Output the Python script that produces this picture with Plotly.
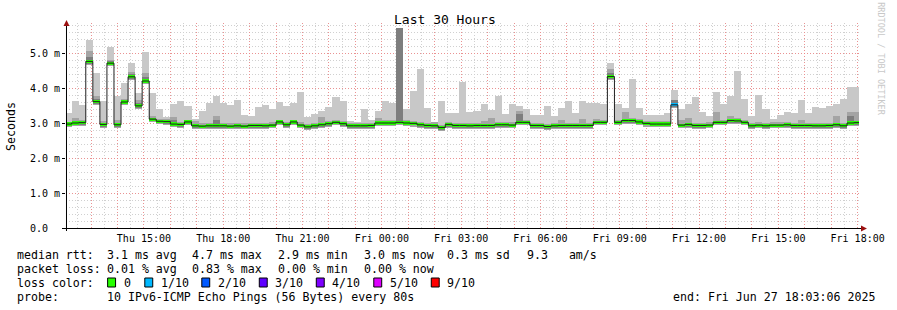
import plotly.graph_objects as go
import pandas as pd

# ---------------- data ----------------
t_start = "2025-06-26 12:03:06"
t_end = "2025-06-27 18:03:06"
bar_start = pd.date_range("2025-06-26 12:00:00", periods=113, freq="16min")

median = [2.97,3.00,3.01,4.76,3.61,2.96,4.71,2.95,3.60,4.32,
          3.49,4.20,3.11,3.05,3.04,2.97,2.96,3.03,2.92,2.91,
          2.92,2.92,2.92,2.91,2.92,2.91,2.93,2.93,2.92,2.94,
          3.03,2.95,3.03,2.94,2.89,2.92,2.95,2.98,3.02,2.98,
          2.92,2.92,2.92,2.93,3.00,3.00,3.00,3.02,3.00,2.99,
          2.95,2.93,2.92,2.87,2.96,2.93,2.93,2.92,2.93,2.93,
          2.93,2.95,2.95,2.94,3.02,3.02,2.93,2.93,2.90,2.92,
          2.93,2.93,2.93,2.93,2.93,3.02,3.02,4.33,3.02,3.07,
          3.07,3.03,2.99,2.97,2.97,2.97,3.52,2.94,2.96,2.93,
          2.93,2.94,3.02,3.02,3.07,3.06,3.02,2.92,2.94,2.92,
          2.94,2.94,2.95,2.93,2.93,2.93,2.92,2.92,2.93,2.95,
          2.92,3.00,3.01]

smoke_max = [3.29,3.64,3.52,5.38,4.43,3.64,5.17,3.78,4.14,4.72,
             3.85,5.04,3.85,3.41,3.18,3.55,3.64,3.49,3.12,3.35,
             3.58,3.78,3.58,3.52,3.66,3.24,3.20,3.47,3.52,3.41,
             3.61,3.49,3.58,3.89,3.18,3.27,3.35,3.47,3.75,3.64,
             3.07,3.04,3.41,3.10,3.35,3.64,3.58,5.71,3.40,3.92,
             4.55,3.44,3.04,3.64,3.28,3.28,4.18,3.32,3.35,3.55,
             3.38,3.78,3.27,3.55,3.49,3.41,3.24,3.24,3.49,3.21,
             3.44,3.64,3.29,3.64,3.58,3.58,3.55,4.72,3.55,3.44,
             4.27,3.44,3.24,3.24,3.24,3.29,3.95,3.41,3.55,3.75,
             3.32,3.21,3.89,3.55,3.78,4.49,3.69,3.21,3.81,3.41,
             3.12,3.24,3.32,3.29,3.66,3.29,3.47,3.44,3.49,3.55,
             3.69,4.04,4.02]

smoke_mid = [3.03,3.14,3.09,5.07,3.76,3.07,4.81,3.09,3.69,4.47,
             3.67,4.43,3.19,3.12,3.11,3.17,3.04,3.09,3.07,2.99,
             3.00,3.21,3.00,2.99,3.00,2.99,3.01,3.01,3.00,3.02,
             3.09,3.03,3.10,3.02,2.97,3.00,3.18,3.06,3.10,3.06,
             3.00,3.00,3.00,3.01,3.14,3.08,3.08,5.71,3.08,3.07,
             3.03,3.01,3.04,2.95,3.04,3.01,3.01,3.00,3.01,3.07,
             3.13,3.03,3.03,3.02,3.35,3.10,3.01,3.01,2.98,3.00,
             3.10,3.01,3.01,3.11,3.01,3.11,3.10,4.53,3.10,3.32,
             3.15,3.11,3.07,3.05,3.05,3.05,3.67,3.10,3.13,3.01,
             3.01,3.02,3.31,3.10,3.19,3.14,3.10,3.00,3.02,3.00,
             3.02,3.02,3.03,3.01,3.10,3.01,3.00,3.00,3.01,3.19,
             3.00,3.31,3.31]

smoke_dark = [3.01,3.04,3.05,4.90,3.70,3.00,4.76,2.99,3.64,4.41,
              3.57,4.31,3.15,3.09,3.08,3.09,3.00,3.07,2.96,2.95,
              2.96,3.10,2.96,2.95,2.96,2.95,2.97,2.97,2.96,2.98,
              3.07,2.99,3.07,2.98,2.93,2.96,2.99,3.02,3.06,3.02,
              2.96,2.96,2.96,2.97,3.04,3.04,3.04,5.71,3.04,3.03,
              2.99,2.97,2.96,2.91,3.00,2.97,2.97,2.96,2.97,2.97,
              2.97,2.99,2.99,2.98,3.25,3.06,2.97,2.97,2.94,2.96,
              2.97,2.97,2.97,2.97,2.97,3.06,3.06,4.44,3.06,3.11,
              3.11,3.07,3.03,3.01,3.01,3.01,3.67,2.98,3.00,2.97,
              2.97,2.98,3.06,3.06,3.11,3.10,3.06,2.96,2.98,2.96,
              2.98,2.98,2.99,2.97,2.97,2.97,2.96,2.96,2.97,2.99,
              2.96,3.20,3.05]

smoke_min = [2.88,2.91,2.92,4.66,3.52,2.87,4.62,2.86,3.51,4.23,
             3.40,4.11,3.02,2.96,2.95,2.88,2.87,2.94,2.83,2.82,
             2.83,2.83,2.83,2.82,2.83,2.82,2.84,2.84,2.83,2.85,
             2.94,2.86,2.94,2.85,2.80,2.83,2.86,2.89,2.93,2.89,
             2.83,2.83,2.83,2.84,2.91,2.91,2.91,2.93,2.91,2.90,
             2.86,2.84,2.83,2.78,2.87,2.84,2.84,2.83,2.84,2.84,
             2.84,2.86,2.86,2.85,2.93,2.93,2.84,2.84,2.81,2.83,
             2.84,2.84,2.84,2.84,2.84,2.93,2.93,4.24,2.93,2.98,
             2.98,2.94,2.90,2.88,2.88,2.88,3.43,2.85,2.87,2.84,
             2.84,2.85,2.93,2.93,2.98,2.97,2.93,2.83,2.85,2.83,
             2.85,2.85,2.86,2.84,2.84,2.84,2.83,2.83,2.84,2.86,
             2.83,2.91,2.92]

loss_tenths = [0] * 86 + [1] + [0] * 26

loss_levels = ["0", "1/10", "2/10", "3/10", "4/10", "5/10", "9/10"]
loss_colors = ["#26ff00", "#00b8ff", "#0059ff", "#5e00ff", "#7e00ff", "#dd00ff", "#ff0000"]
loss_index = {0: 0, 1: 1, 2: 2, 3: 3, 4: 4, 5: 5, 9: 6}

hour_ticks = pd.date_range("2025-06-26 13:00", "2025-06-27 18:00", freq="1h")
label_ticks = {"2025-06-26 15:00": "Thu 15:00", "2025-06-26 18:00": "Thu 18:00",
               "2025-06-26 21:00": "Thu 21:00", "2025-06-27 00:00": "Fri 00:00",
               "2025-06-27 03:00": "Fri 03:00", "2025-06-27 06:00": "Fri 06:00",
               "2025-06-27 09:00": "Fri 09:00", "2025-06-27 12:00": "Fri 12:00",
               "2025-06-27 15:00": "Fri 15:00", "2025-06-27 18:00": "Fri 18:00"}
y_ticks = [0, 1, 2, 3, 4, 5]
y_ticktext = ["0.0  ", "1.0 m", "2.0 m", "3.0 m", "4.0 m", "5.0 m"]

stats_rtt = ["3.1 ms avg", "4.7 ms max", "2.9 ms min", "3.0 ms now", "0.3 ms sd", "9.3   am/s"]
stats_loss = ["0.01 % avg", "0.83 % max", "0.00 % min", "0.00 % now"]
probe_text = "10 IPv6-ICMP Echo Pings (56 Bytes) every 80s"
end_text = "end: Fri Jun 27 18:03:06 2025"

# ---------------- layout geometry ----------------
W, H = 897, 310
L, R, T, B = 66, 31, 23, 82
PW = W - L - R
PH = H - T - B
PX_PER_UNIT = 35.0
YMAX = PH / PX_PER_UNIT
STEP_MS = 16 * 60 * 1000
FONT = "DejaVu Sans Mono"


def fx(px):
    return (px - L) / PW


def fy(py):
    return (H - B - py) / PH


def nb(s):
    return s.replace(" ", "\u00a0")


fig = go.Figure()


def band(lo, hi, color):
    fig.add_trace(go.Bar(
        x=bar_start, base=lo, y=[h - l for l, h in zip(lo, hi)],
        width=STEP_MS, offset=0, marker=dict(color=color, line=dict(width=0)),
        hoverinfo="skip", showlegend=False))


band(smoke_min, smoke_max, "#c8c8c8")
band(smoke_min, smoke_mid, "#a4a4a4")
band([v + 0.03 for v in smoke_min], smoke_dark, "#7e7e7e")

# median step line
fig.add_trace(go.Scatter(
    x=list(bar_start) + [pd.Timestamp(t_end)], y=median + [median[-1]],
    mode="lines", line=dict(shape="hv", color="#202020", width=1),
    hoverinfo="skip", showlegend=False))

# loss-coloured median band
fig.add_trace(go.Bar(
    x=bar_start, base=[m - 0.045 for m in median], y=[0.09] * len(median),
    width=STEP_MS, offset=0,
    marker=dict(color=[loss_colors[loss_index[v]] for v in loss_tenths], line=dict(width=0)),
    hoverinfo="skip", showlegend=False))

tickvals = list(hour_ticks)
ticktext = [label_ticks.get(t.strftime("%Y-%m-%d %H:%M"), "") for t in hour_ticks]

fig.update_layout(
    width=W, height=H, autosize=False,
    margin=dict(l=L, r=R, t=T, b=B, pad=0),
    paper_bgcolor="white", plot_bgcolor="white",
    barmode="overlay", bargap=0, showlegend=False,
    font=dict(family=FONT, color="#000000"),
    xaxis=dict(
        type="date", range=[t_start, t_end], tickvals=tickvals, ticktext=ticktext,
        tickfont=dict(size=10, family=FONT), ticks="", ticklabelstandoff=3,
        showline=False, zeroline=False,
        showgrid=True, gridcolor="rgba(240,130,130,0.8)", griddash="1px,2px", gridwidth=1,
        minor=dict(dtick=30 * 60 * 1000, showgrid=True, gridcolor="#d0d0d0",
                   griddash="1px,2px", gridwidth=1),
        fixedrange=True),
    yaxis=dict(
        range=[0, YMAX], tickvals=y_ticks, ticktext=[nb(t) for t in y_ticktext],
        tickfont=dict(size=10, family=FONT), ticks="outside", ticklen=3, tickcolor="#000000",
        showline=False, zeroline=False,
        showgrid=True, gridcolor="rgba(240,130,130,0.8)", griddash="1px,2px", gridwidth=1,
        minor=dict(dtick=0.2, showgrid=True, gridcolor="#d0d0d0", griddash="1px,2px", gridwidth=1),
        fixedrange=True),
)

shapes = []
axis_col = "#000000"
arrow_col = "#9b1010"
# x axis line + arrow
shapes.append(dict(type="line", xref="paper", yref="paper", x0=fx(63), x1=fx(869),
                   y0=fy(228.5), y1=fy(228.5), line=dict(color=axis_col, width=1)))
shapes.append(dict(type="path", xref="paper", yref="paper",
                   path=f"M {fx(868)},{fy(225.5)} L {fx(874)},{fy(228.5)} L {fx(868)},{fy(231.5)} Z",
                   fillcolor=arrow_col, line=dict(color=arrow_col, width=0)))
# y axis line + arrow
shapes.append(dict(type="line", xref="paper", yref="paper", x0=fx(66.5), x1=fx(66.5),
                   y0=fy(231), y1=fy(25), line=dict(color=axis_col, width=1)))
shapes.append(dict(type="path", xref="paper", yref="paper",
                   path=f"M {fx(63.5)},{fy(26)} L {fx(66.5)},{fy(20)} L {fx(69.5)},{fy(26)} Z",
                   fillcolor=arrow_col, line=dict(color=arrow_col, width=0)))

annotations = []


def text(px, py, s, size=11.6, anchor="left", color="#000000", angle=0):
    annotations.append(dict(xref="paper", yref="paper", x=fx(px), y=fy(py), text=nb(s),
                            showarrow=False, xanchor=anchor, yanchor="middle", borderpad=0,
                            textangle=angle, font=dict(family=FONT, size=size, color=color)))


text(448, 20, "Last 30 Hours", size=13, anchor="center")
text(10.5, 126, "Seconds", size=11.6, anchor="center", angle=-90)
text(888, 59, "RRDTOOL / TOBI OETIKER", size=8.5, anchor="center", color="#c8c8c8", angle=90)

row_y = [254.5, 268.5, 282.5, 296.5]
col_x = [106.5, 192.5, 278.8, 365.3, 449.8, 529.8]
text(15.5, row_y[0], "median rtt:")
for cx, s in zip(col_x, stats_rtt):
    text(cx, row_y[0], s)
text(15.5, row_y[1], "packet loss:")
for cx, s in zip(col_x, stats_loss):
    text(cx, row_y[1], s)
text(15.5, row_y[2], "loss color:")
box_x = [108, 145.5, 203, 261, 318.5, 376.5, 434.5]
for bx, lab, col in zip(box_x, loss_levels, loss_colors):
    shapes.append(dict(type="rect", xref="paper", yref="paper",
                       x0=fx(bx), x1=fx(bx + 8), y0=fy(row_y[2] + 4.5), y1=fy(row_y[2] - 4.5),
                       fillcolor=col, line=dict(color="#000000", width=1)))
    text(bx + 15, row_y[2], lab)
text(15.5, row_y[3], "probe:")
text(106.5, row_y[3], probe_text)
text(677.3, row_y[3], end_text)

fig.update_layout(shapes=shapes, annotations=annotations)
fig.write_html("out.html")
